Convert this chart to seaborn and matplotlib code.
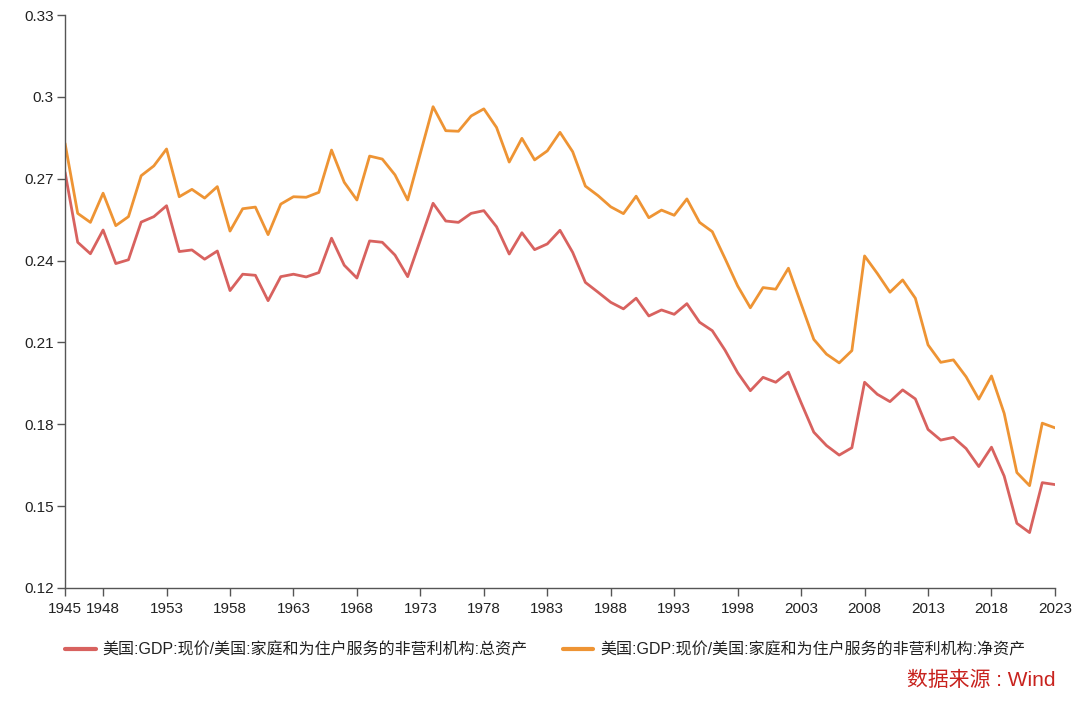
import numpy as np
import pandas as pd
import matplotlib
matplotlib.use("Agg")
import matplotlib.pyplot as plt
import seaborn as sns

# Data (GDP / household net worth & total assets)
years = list(range(1945, 2024))

total_assets = [
    0.2724, 0.2467, 0.2425, 0.2512, 0.2389, 0.2403, 0.2541, 0.2561, 0.2601, 0.2433,
    0.2439, 0.2405, 0.2435, 0.2290, 0.2350, 0.2346, 0.2253, 0.2341, 0.2350, 0.2340,
    0.2356, 0.2482, 0.2383, 0.2336, 0.2472, 0.2467, 0.2420, 0.2341, 0.2475, 0.2610,
    0.2545, 0.2540, 0.2573, 0.2583, 0.2524, 0.2424, 0.2502, 0.2440, 0.2461, 0.2511,
    0.2430, 0.2320, 0.2284, 0.2247, 0.2223, 0.2262, 0.2197, 0.2219, 0.2203, 0.2242,
    0.2174, 0.2143, 0.2072, 0.1989, 0.1923, 0.1972, 0.1954, 0.1991, 0.1879, 0.1771,
    0.1722, 0.1687, 0.1714, 0.1954, 0.1910, 0.1883, 0.1926, 0.1893, 0.1781, 0.1742,
    0.1752, 0.1711, 0.1645, 0.1716, 0.1610, 0.1437, 0.1403, 0.1586, 0.1579,
]

net_assets = [
    0.2830, 0.2573, 0.2540, 0.2647, 0.2528, 0.2561, 0.2711, 0.2747, 0.2809, 0.2634,
    0.2661, 0.2629, 0.2671, 0.2508, 0.2590, 0.2596, 0.2495, 0.2607, 0.2634, 0.2632,
    0.2650, 0.2805, 0.2687, 0.2622, 0.2783, 0.2772, 0.2714, 0.2622, 0.2793, 0.2964,
    0.2876, 0.2874, 0.2930, 0.2956, 0.2888, 0.2761, 0.2848, 0.2769, 0.2802, 0.2870,
    0.2799, 0.2673, 0.2638, 0.2597, 0.2572, 0.2636, 0.2557, 0.2585, 0.2566, 0.2626,
    0.2540, 0.2506, 0.2408, 0.2307, 0.2227, 0.2301, 0.2295, 0.2372, 0.2241, 0.2111,
    0.2057, 0.2025, 0.2070, 0.2417, 0.2353, 0.2284, 0.2329, 0.2262, 0.2091, 0.2027,
    0.2036, 0.1974, 0.1892, 0.1977, 0.1840, 0.1623, 0.1575, 0.1804, 0.1787,
]

series_names = [
    "美国:GDP:现价/美国:家庭和为住户服务的非营利机构:总资产",
    "美国:GDP:现价/美国:家庭和为住户服务的非营利机构:净资产",
]
colors = ["#d8625f", "#ee9434"]

x_ticks = [1945, 1948, 1953, 1958, 1963, 1968, 1973, 1978, 1983, 1988,
           1993, 1998, 2003, 2008, 2013, 2018, 2023]
y_ticks = [0.12, 0.15, 0.18, 0.21, 0.24, 0.27, 0.30, 0.33]
y_tick_labels = ["0.12", "0.15", "0.18", "0.21", "0.24", "0.27", "0.3", "0.33"]

source_text = "数据来源 : Wind"

# Long-format table for seaborn
df = pd.concat([
    pd.DataFrame({"year": years, "value": total_assets, "series": series_names[0]}),
    pd.DataFrame({"year": years, "value": net_assets, "series": series_names[1]}),
])

sns.set_style("white")
# Latin glyphs from a Helvetica-like face, CJK falls through to Noto
plt.rcParams["font.family"] = ["Liberation Sans", "Noto Sans CJK SC", "DejaVu Sans"]

fig = plt.figure(figsize=(10.8, 7.05), dpi=100)
ax = fig.add_axes([0.0602, 0.166, 0.9166, 0.8127])

sns.lineplot(data=df, x="year", y="value", hue="series",
             palette=colors, linewidth=2.0, ax=ax, legend=False)

ax.set_xlim(1945, 2023)
ax.set_ylim(0.12, 0.33)
ax.set_xticks(x_ticks)
ax.set_xticklabels([str(y) for y in x_ticks])
ax.set_yticks(y_ticks)
ax.set_yticklabels(y_tick_labels)
ax.set_xlabel("")
ax.set_ylabel("")

for side in ["top", "right"]:
    ax.spines[side].set_visible(False)
for side in ["left", "bottom"]:
    ax.spines[side].set_color("#555555")
    ax.spines[side].set_linewidth(1.0)

ax.tick_params(axis="both", which="major", direction="out", length=6,
               width=1.0, color="#555555", labelsize=11, labelcolor="#222222",
               bottom=True, left=True)
ax.tick_params(axis="x", pad=4)
ax.tick_params(axis="y", pad=2)

# Legend under the plot
handles = [plt.Line2D([0], [0], color=c, linewidth=3) for c in colors]
fig.legend(handles, series_names, loc="center", bbox_to_anchor=(0.505, 0.078),
           ncol=2, frameon=False, fontsize=11.5, handlelength=1.9,
           handletextpad=0.45, columnspacing=2.2, labelcolor="#222222")

# Source note
fig.text(0.977, 0.035, source_text, ha="right", va="center",
         fontsize=15, color="#c8231e")

fig.savefig("out.png", dpi=100)
